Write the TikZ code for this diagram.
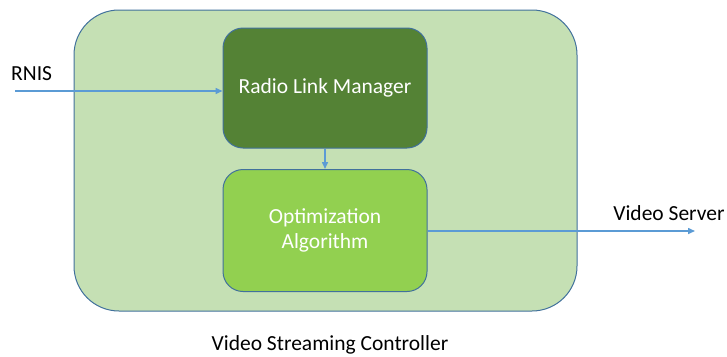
\documentclass[tikz,border=0pt]{standalone}
\usepackage{fontspec}
\setmainfont{Carlito}
\usetikzlibrary{arrows.meta}

\definecolor{ctrlfill}{HTML}{C5E0B4}
\definecolor{rlmfill}{HTML}{548235}
\definecolor{optfill}{HTML}{92D050}
\definecolor{edgeblue}{HTML}{41719C}
\definecolor{arrowblue}{HTML}{5B9BD5}

\begin{document}
\begin{tikzpicture}[x=1pt,y=-1pt,
  block/.style={draw=edgeblue, line width=1pt, rounded corners=20pt, text=white,
    minimum width=204pt, align=center, font=\fontsize{21.5}{25}\selectfont},
  link/.style={draw=arrowblue, line width=1.5pt, -{Triangle[length=7pt,width=6pt]}},
  lbl/.style={text=black, font=\fontsize{21.5}{25}\selectfont}]
\useasboundingbox (0,0) rectangle (727,356);
% controller box
\node[draw=edgeblue, line width=1pt, fill=ctrlfill, rounded corners=45pt,
  minimum width=503pt, minimum height=301pt] (ctrl) at (325.5,160.5) {};
% inner blocks
\node[block, fill=rlmfill, minimum height=120pt] (rlm) at (325,88) {Radio Link Manager};
\node[block, fill=optfill, minimum height=122pt] (opt) at (325,230.5) {Optimization\\Algorithm};
% labels
\node[lbl, anchor=west, inner sep=0pt] (rnislbl) at (11,74) {RNIS};
\node[lbl] (vslbl) at (669,213) {Video Server};
\node[lbl] (ctrllbl) at (330,345) {Video Streaming Controller};
% connectors
\coordinate (rnis) at (15,91);
\coordinate (vs) at (695,231);
\draw[link] (rnis) -- (rnis -| rlm.west);
\draw[link] (rlm.south) -- (opt.north);
\draw[link] (opt.east |- vs) -- (vs);
\end{tikzpicture}
\end{document}
